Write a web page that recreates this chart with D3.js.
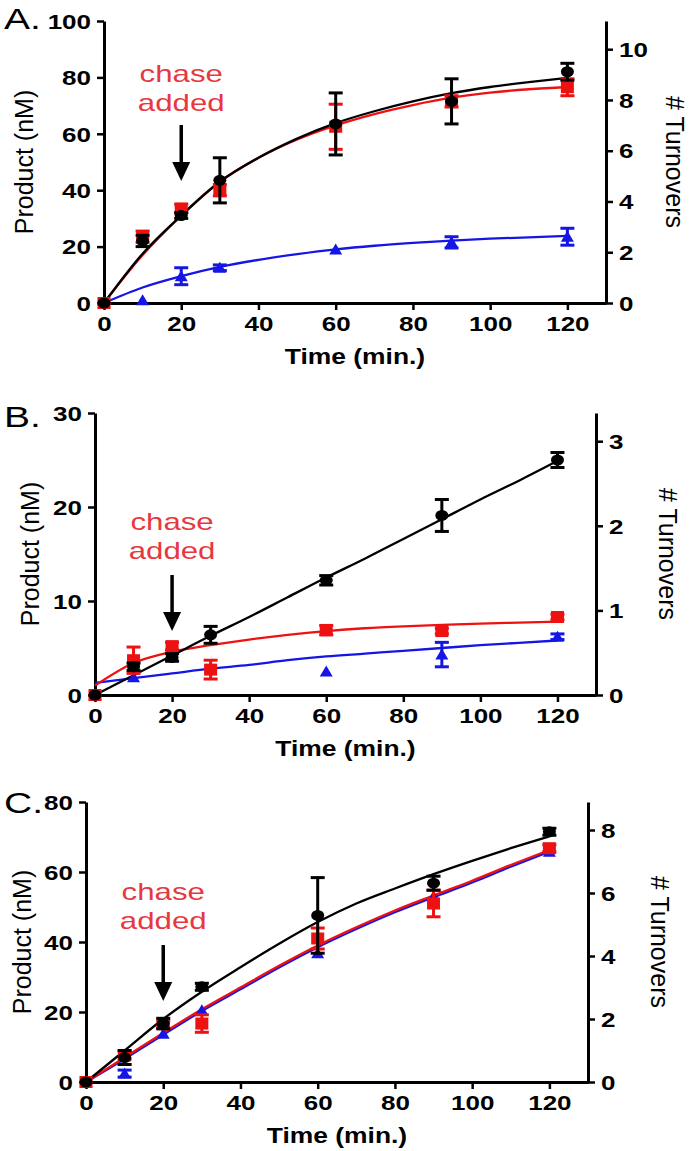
<!DOCTYPE html>
<html>
<head>
<meta charset="utf-8">
<script src="https://cdn.jsdelivr.net/npm/d3@7"></script>
<style>
html,body{margin:0;padding:0;background:#fff;}
svg{display:block;}
text{font-family:"Liberation Sans",Arial,Helvetica,sans-serif;}
</style>
</head>
<body>
<svg id="chart" width="693" height="1151"></svg>
<script>
// ---------- DATA ----------
const timePoints = [0, 10, 20, 30, 60, 90, 120];
const fitTimes = [0, 10, 20, 30, 40, 50, 60, 70, 80, 90, 100, 110, 120];
const xTicks = [0, 20, 40, 60, 80, 100, 120];
const panelLabels = ["A.", "B.", "C."];
const seriesColors = ["#1515e6", "#ee1111", "#000000"]; // blue, red, black
const chaseLines = ["chase", "added"];
const chaseTime = 20;
const nMPerTurnover = 9;

// Panel A
const aLeftTicks = [0, 20, 40, 60, 80, 100];
const aRightTicks = [0, 2, 4, 6, 8, 10];
const aBlue = [0, 1, 9.5, 12.5, 19, 21.5, 23.5];
const aBlueErr = [0, 0.5, 3, 1, 0.5, 2, 3];
const aRed = [0, 23.5, 33.5, 40, 62.5, 71.5, 76.5];
const aRedErr = [0, 2, 1.5, 2, 8, 2, 3];
const aBlack = [0, 22, 31, 43.5, 63.5, 71.5, 82];
const aBlackErr = [0, 2, 1, 8, 11, 8, 3];
const aBlueFit = [0, 5.5, 9.5, 12.8, 15.3, 17.3, 19, 20.3, 21.3, 22.1, 22.8, 23.3, 23.8];
const aRedFit = [0, 17, 31, 43, 51.5, 58, 63, 67, 70.2, 72.8, 74.6, 75.8, 76.6];
const aBlackFit = [0, 17.5, 31, 43, 51.5, 58.3, 63.8, 68, 71.5, 74.4, 76.6, 78.3, 79.8];

// Panel B
const bLeftTicks = [0, 10, 20, 30];
const bRightTicks = [0, 1, 2, 3];
const bBlue = [0, 1.9, 4, 2.8, 2.5, 4.3, 6.2];
const bBlueErr = [0, 0.2, 0.2, 0.2, 0.2, 1.3, 0.3];
const bRed = [0, 3.7, 5.2, 2.7, 6.9, 6.8, 8.3];
const bRedErr = [0, 1.4, 0.4, 1, 0.5, 0.3, 0.3];
const bBlack = [0, 3, 4, 6.4, 12.2, 19.1, 25];
const bBlackErr = [0, 0.4, 0.4, 0.9, 0.5, 1.7, 0.8];
const bBlueFit = [1.3, 1.8, 2.3, 2.8, 3.2, 3.7, 4.1, 4.4, 4.7, 5.0, 5.3, 5.55, 5.8];
const bRedFit = [1, 3.4, 4.6, 5.3, 5.9, 6.4, 6.8, 7.1, 7.3, 7.45, 7.6, 7.7, 7.8];
const bBlackFit = [0, 2.1, 4.2, 6.3, 8.3, 10.4, 12.5, 14.5, 16.6, 18.7, 20.8, 22.8, 24.9];

// Panel C
const cLeftTicks = [0, 20, 40, 60, 80];
const cRightTicks = [0, 2, 4, 6, 8];
const cBlue = [0, 2.4, 13.8, 20.5, 36.8, 53, 65.8];
const cBlueErr = [0, 1, 0.5, 0.5, 0.5, 0.5, 0.5];
const cRed = [0, 7.6, 16.5, 16.7, 41, 51, 66.8];
const cRedErr = [0, 1, 1, 2.5, 3, 3.8, 1];
const cBlack = [0, 7, 16.7, 27.2, 47.6, 56.8, 71.5];
const cBlackErr = [0, 2, 1.5, 1, 10.8, 2, 1];
const cBlueFit = [0, 6.6, 13.5, 20.3, 26.5, 32.7, 38.5, 43.7, 48.5, 52.8, 57, 61.5, 65.8];
const cRedFit = [0, 7, 14, 20.8, 27, 33.2, 39, 44.2, 49, 53.3, 57.5, 62, 66.3];
const cBlackFit = [0, 9, 18, 25.8, 32.8, 39.5, 45.7, 51, 55.3, 59.4, 63.2, 66.8, 70.2];

// ---------- LAYOUT ----------
const STRETCH = 1.3;
const svg = d3.select("#chart");

function stretch(sel, f) {
  sel.each(function () {
    const w = this.getComputedTextLength();
    this.setAttribute("textLength", w * (f || STRETCH));
    this.setAttribute("lengthAdjust", "spacingAndGlyphs");
  });
}

const panels = [
  { x0: 104, x1: 606, yTop: 21, yBot: 303, yMax: 100, left: aLeftTicks, right: aRightTicks,
    series: [[aBlue, aBlueErr, aBlueFit], [aRed, aRedErr, aRedFit], [aBlack, aBlackErr, aBlackFit]],
    labelY: 29, prodCx: 24, turnCx: 675, arrowTop: 125, arrowTip: 181, chaseY: 82 },
  { x0: 95, x1: 596, yTop: 413, yBot: 695, yMax: 30, left: bLeftTicks, right: bRightTicks,
    series: [[bBlue, bBlueErr, bBlueFit], [bRed, bRedErr, bRedFit], [bBlack, bBlackErr, bBlackFit]],
    labelY: 427, prodCx: 30, turnCx: 668, arrowTop: 575, arrowTip: 631, chaseY: 530 },
  { x0: 86, x1: 588, yTop: 802, yBot: 1082, yMax: 80, left: cLeftTicks, right: cRightTicks,
    series: [[cBlue, cBlueErr, cBlueFit], [cRed, cRedErr, cRedFit], [cBlack, cBlackErr, cBlackFit]],
    labelY: 813, prodCx: 22, turnCx: 660, arrowTop: 945, arrowTip: 1001, chaseY: 900 }
];

const shapes = ["triangle", "square", "circle"];
const fmt = d3.format("d");

panels.forEach((p, pi) => {
  const g = svg.append("g");
  const x = d3.scaleLinear().domain([0, 130]).range([p.x0, p.x1]);
  const y = d3.scaleLinear().domain([0, p.yMax]).range([p.yBot, p.yTop]);
  const yR = d3.scaleLinear().domain([0, p.yMax / nMPerTurnover]).range([p.yBot, p.yTop]);

  // axes
  const styleAxis = (ax) => {
    ax.selectAll("path.domain").attr("stroke", "#000").attr("stroke-width", 3);
    ax.selectAll(".tick line").attr("stroke", "#000").attr("stroke-width", 2.5);
    ax.selectAll(".tick text").attr("font-size", 20).attr("font-weight", "bold")
      .attr("fill", "#000").attr("font-family", '"Liberation Sans",Arial,sans-serif');
    stretch(ax.selectAll(".tick text"));
  };
  const ax = g.append("g").attr("transform", `translate(0,${p.yBot})`)
    .call(d3.axisBottom(x).tickValues(xTicks).tickFormat(fmt).tickSize(7).tickSizeOuter(0).tickPadding(7));
  styleAxis(ax);
  const ay = g.append("g").attr("transform", `translate(${p.x0},0)`)
    .call(d3.axisLeft(y).tickValues(p.left).tickFormat(fmt).tickSize(7).tickSizeOuter(0).tickPadding(6));
  styleAxis(ay);
  ay.selectAll(".tick text").attr("dy", "0.36em");
  const ar = g.append("g").attr("transform", `translate(${p.x1},0)`)
    .call(d3.axisRight(yR).tickValues(p.right).tickFormat(fmt).tickSize(7).tickSizeOuter(0).tickPadding(6));
  styleAxis(ar);
  ar.selectAll(".tick text").attr("dy", "0.36em");

  // fits
  const line = d3.line().x((d, i) => x(fitTimes[i])).y(d => y(d)).curve(d3.curveMonotoneX);
  p.series.forEach((s, si) => {
    g.append("path").datum(s[2]).attr("d", line).attr("fill", "none")
      .attr("stroke", seriesColors[si]).attr("stroke-width", 2.3);
  });

  // error bars + markers
  p.series.forEach((s, si) => {
    const col = seriesColors[si];
    const vals = s[0], errs = s[1];
    const eb = g.append("g");
    vals.forEach((v, i) => {
      const e = errs[i];
      if (e <= 0.8 * (p.yMax / 100)) return;
      const cx = x(timePoints[i]);
      eb.append("line").attr("x1", cx).attr("x2", cx).attr("y1", y(v - e)).attr("y2", y(v + e))
        .attr("stroke", col).attr("stroke-width", 3);
      [v - e, v + e].forEach(w => {
        eb.append("line").attr("x1", cx - 7).attr("x2", cx + 7).attr("y1", y(w)).attr("y2", y(w))
          .attr("stroke", col).attr("stroke-width", 3);
      });
    });
    const mk = g.append("g").attr("fill", col);
    vals.forEach((v, i) => {
      const cx = x(timePoints[i]), cy = y(v);
      if (shapes[si] === "circle") {
        mk.append("ellipse").attr("cx", cx).attr("cy", cy).attr("rx", 6.5).attr("ry", 5.5);
      } else if (shapes[si] === "square") {
        mk.append("rect").attr("x", cx - 6.5).attr("y", cy - 6).attr("width", 13).attr("height", 12);
      } else {
        mk.append("path").attr("d", `M${cx - 6.5},${cy + 5}L${cx + 6.5},${cy + 5}L${cx},${cy - 6}Z`);
      }
    });
  });

  // axis titles
  const prodCy = (p.yTop + p.yBot) / 2;
  g.append("text").attr("transform", `translate(${p.prodCx},${prodCy}) rotate(-90)`)
    .attr("text-anchor", "middle").attr("dy", "0.36em").attr("font-size", 25).text("Product (nM)");
  g.append("text").attr("transform", `translate(${p.turnCx},${prodCy}) rotate(90)`)
    .attr("text-anchor", "middle").attr("dy", "0.36em").attr("font-size", 25).text("# Turnovers");
  const tt = g.append("text").attr("x", (p.x0 + p.x1) / 2).attr("y", p.yBot + 61)
    .attr("text-anchor", "middle").attr("font-size", 22).attr("font-weight", "bold").text("Time (min.)");
  stretch(tt, 1.2);

  // panel label
  const pl = g.append("text").attr("x", 4).attr("y", p.labelY)
    .attr("font-family", '"Liberation Serif","Times New Roman",serif').attr("font-size", 30)
    .text(panelLabels[pi]);
  stretch(pl, 1.3);

  // chase added annotation
  const ax20 = x(chaseTime);
  chaseLines.forEach((t, i) => {
    const ct = g.append("text").attr("x", ax20).attr("y", p.chaseY + i * 29)
      .attr("text-anchor", "middle").attr("font-size", 24).attr("fill", "#e8383f").text(t);
    stretch(ct, 1.3);
  });
  g.append("line").attr("x1", ax20).attr("x2", ax20).attr("y1", p.arrowTop).attr("y2", p.arrowTip - 14)
    .attr("stroke", "#000").attr("stroke-width", 3.5);
  g.append("path").attr("d", `M${ax20 - 9},${p.arrowTip - 19}L${ax20 + 9},${p.arrowTip - 19}L${ax20},${p.arrowTip}Z`)
    .attr("fill", "#000");
});
</script>
</body>
</html>
